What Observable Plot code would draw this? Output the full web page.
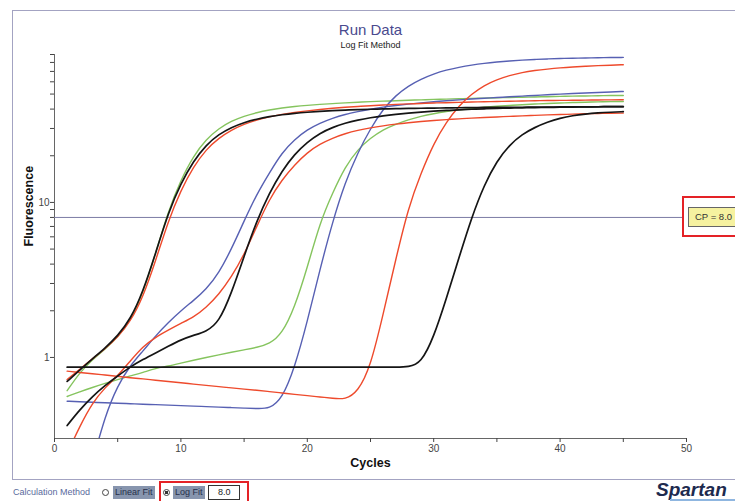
<!DOCTYPE html>
<html>
<head>
<meta charset="utf-8">
<script src="https://cdn.jsdelivr.net/npm/d3@7"></script>
<script src="https://cdn.jsdelivr.net/npm/@observablehq/plot@0.6"></script>
<style>
  body { margin: 0; background: #fff; font-family: "Liberation Sans", Arial, sans-serif; }
  #wrap { position: relative; width: 735px; height: 501px; overflow: hidden; background: #fff; }
  #wrap svg { position: absolute; left: 0; top: 0; }
  .ov { position: absolute; white-space: nowrap; box-sizing: border-box; }
</style>
</head>
<body>
<div id="wrap"></div>
<script>
// ---------------- data ----------------
const cycles = [1,2,3,4,5,6,7,8,9,10,11,12,13,14,15,16,17,18,19,20,21,22,23,24,25,26,27,28,29,30,31,32,33,34,35,36,37,38,39,40,41,42,43,44,45];

const seriesNames = ["Green 1", "Green 2", "Blue 1", "Blue 2", "Red 1", "Red 2", "Red 3", "Black 1", "Black 2", "Black 3"];

const green1 = [0.61,0.8,0.97,1.13,1.35,1.72,2.6,4.7,8.8,14,
  20,25.5,30,33.5,36,38,39.5,40.7,41.6,42.3,
  42.9,43.4,43.9,44.3,44.7,45,45.3,45.6,45.9,46.2,
  46.4,46.7,46.9,47.1,47.3,47.5,47.7,47.9,48.1,48.3,
  48.5,48.6,48.8,48.9,49];
const green2 = [0.56,0.6,0.64,0.68,0.72,0.76,0.8,0.85,0.88,0.92,
  0.96,1.0,1.04,1.08,1.12,1.16,1.22,1.42,2.1,3.8,
  7.4,11.5,17,22,26,29.5,32,34.2,36,37.4,
  38.6,39.6,40.4,41.1,41.7,42.2,42.7,43.1,43.5,43.8,
  44.1,44.3,44.5,44.7,44.8];
const blue1 = [0.06,0.12,0.21,0.42,0.66,0.89,1.1,1.38,1.68,2.0,
  2.33,2.75,3.5,5.0,7.6,11.3,15.5,21,25.5,29.5,
  32.5,35,37,38.5,40,41.2,42.2,43.1,43.9,44.6,
  45.3,45.9,46.5,47,47.5,48,48.5,49,49.5,50,
  50.4,50.8,51.2,51.6,52];
const blue2 = [0.522,0.518,0.514,0.51,0.507,0.503,0.499,0.496,0.492,0.489,
  0.485,0.482,0.478,0.475,0.471,0.468,0.466,0.54,0.86,1.7,
  3.7,7.5,13.5,21,30,40,49,56.5,62.5,67.5,
  71.5,74.5,77,79,80.5,81.8,82.8,83.6,84.3,84.8,
  85.2,85.5,85.8,86,86.2];
const red1 = [0.72,0.84,0.98,1.14,1.35,1.7,2.45,4.2,7.6,12,
  17,22,26,29.3,32,34,35.7,37,38.1,39,
  39.8,40.5,41.1,41.6,42.1,42.5,42.9,43.2,43.5,43.8,
  44,44.2,44.4,44.6,44.8,45,45.1,45.3,45.4,45.5,
  45.6,45.7,45.8,45.9,46];
const red2 = [0.24,0.36,0.51,0.64,0.76,0.95,1.18,1.35,1.5,1.66,
  1.82,2.1,2.55,3.3,4.6,7.0,10.5,14,17.5,21,
  23.8,26,27.8,29.2,30.3,31.2,32,32.7,33.3,33.8,
  34.2,34.6,35,35.3,35.6,35.9,36.2,36.4,36.7,36.9,
  37.1,37.3,37.5,37.6,37.7];
const red3 = [0.816,0.8,0.785,0.77,0.755,0.74,0.727,0.713,0.7,0.687,
  0.673,0.66,0.648,0.636,0.625,0.614,0.602,0.59,0.578,0.567,
  0.556,0.545,0.535,0.6,0.87,1.9,4.3,9.3,15.5,24,
  33,42,50,57,62,66,69,71,72.5,73.8,
  74.8,75.6,76.3,76.8,77.3];
const black1 = [0.7,0.83,0.98,1.15,1.38,1.76,2.65,4.7,8.6,13.3,
  18.5,23.5,27.5,30.5,32.8,34.5,35.8,36.8,37.6,38.2,
  38.7,39.1,39.4,39.7,39.9,40.1,40.3,40.4,40.5,40.6,
  40.7,40.8,40.9,41,41,41.1,41.1,41.2,41.2,41.3,
  41.3,41.4,41.4,41.5,41.5];
const black2 = [0.364,0.46,0.56,0.66,0.76,0.87,0.97,1.07,1.18,1.3,
  1.39,1.47,1.68,2.6,4.5,7.6,11.5,16,20.5,24.5,
  28,30.5,32.5,34,35.2,36.2,37,37.7,38.3,38.8,
  39.2,39.6,39.9,40.2,40.4,40.6,40.8,40.9,41,41.1,
  41.2,41.3,41.4,41.5,41.5];
const black3 = [0.866,0.866,0.866,0.866,0.866,0.866,0.866,0.866,0.866,0.866,
  0.866,0.866,0.866,0.866,0.866,0.866,0.866,0.866,0.866,0.866,
  0.866,0.866,0.866,0.866,0.866,0.866,0.866,0.866,0.92,1.35,
  2.4,4.4,8,13,18.5,23.5,27.5,30.5,33,35,
  36.3,37.2,37.8,38.2,38.5];

const seriesValues = [green1, green2, blue1, blue2, red1, red2, red3, black1, black2, black3];

const xMajorTicks = [0, 10, 20, 30, 40, 50];
const xMinorTicks = [5, 15, 25, 35, 45];
const yMajorTicks = [1, 10];
const yMinorTicks = [2, 3, 4, 5, 6, 7, 8, 9, 20, 30, 40, 50, 60, 70, 80, 90];

const cpThreshold = 8.0;

const titleText = "Run Data";
const subtitleText = "Log Fit Method";
const xLabel = "Cycles";
const yLabel = "Fluorescence";
const methodLabel = "Calculation Method";
const methodOptions = ["Linear Fit", "Log Fit"];
const logoText = "Spartan";

// ---------------- styles ----------------
const seriesColors = ["#85c45e", "#85c45e", "#5760b3", "#5760b3", "#ee4a2c", "#ee4a2c", "#ee4a2c", "#151515", "#151515", "#151515"];
const seriesWidths = [1.4, 1.4, 1.4, 1.4, 1.4, 1.4, 1.4, 1.7, 1.7, 1.7];

// ---------------- build ----------------
const rows = seriesNames.flatMap((s, i) =>
  cycles.map((c, j) => ({cycle: c, value: seriesValues[i][j], series: s})));

const axisColor = "#666";

const chart = Plot.plot({
  width: 735,
  height: 501,
  marginLeft: 54,
  marginRight: 49,
  marginTop: 54,
  marginBottom: 63,
  style: {fontFamily: "'Liberation Sans', Arial, sans-serif", background: "transparent", color: "#333"},
  x: {domain: [0, 50]},
  y: {type: "log", domain: [0.3, 90]},
  marks: [
    // axis lines
    Plot.ruleX([0], {y1: 0.3, y2: 90, stroke: axisColor, strokeWidth: 1}),
    Plot.ruleY([0.3], {x1: 0, x2: 50, stroke: axisColor, strokeWidth: 1}),
    Plot.axisX({ticks: xMajorTicks, tickSize: 4, tickPadding: 2, fontSize: 10, tickFormat: d => String(d), label: null, color: "#444"}),
    Plot.axisX({ticks: xMinorTicks, tickSize: 4, tickFormat: () => "", label: null, color: "#444"}),
    Plot.axisY({ticks: yMajorTicks, tickSize: 4, tickPadding: 1, fontSize: 10, tickFormat: d => String(d), label: null, color: "#444"}),
    Plot.axisY({ticks: yMinorTicks, tickSize: 4, tickFormat: () => "", label: null, color: "#444"}),
    // threshold
    Plot.ruleY([cpThreshold], {x1: 0, x2: 50, stroke: "#7c7ca4", strokeWidth: 1}),
    // curves
    ...seriesNames.map((s, i) => Plot.line(rows.filter(r => r.series === s), {
      x: "cycle", y: "value", stroke: seriesColors[i], strokeWidth: seriesWidths[i],
      curve: "basis", clip: true
    })),
    // texts
    Plot.text([titleText], {text: d => d, frameAnchor: "top", dy: -30, fontSize: 15, fill: "#4a4a8e"}),
    Plot.text([subtitleText], {text: d => d, frameAnchor: "top", dy: -12.5, fontSize: 9, fill: "#222"}),
    Plot.text([xLabel], {text: d => d, frameAnchor: "bottom", dy: 28, fontSize: 12.5, fontWeight: "bold", fill: "#111"}),
    Plot.text([yLabel], {text: d => d, frameAnchor: "left", dx: -26, rotate: -90, fontSize: 12.5, fontWeight: "bold", fill: "#111"})
  ]
});

const wrap = document.getElementById("wrap");

// outer frame
const frame = document.createElement("div");
frame.className = "ov";
Object.assign(frame.style, {left: "12px", top: "10px", width: "800px", height: "470px",
  border: "1.5px solid #a3a3c2"});
wrap.appendChild(frame);

wrap.appendChild(chart);

function addDiv(styles, text) {
  const d = document.createElement("div");
  d.className = "ov";
  Object.assign(d.style, styles);
  if (text != null) d.textContent = text;
  wrap.appendChild(d);
  return d;
}

// CP label box positioned from the y scale
const yCP = chart.scale("y").apply(cpThreshold);
addDiv({left: "682px", top: (yCP - 21) + "px", width: "70px", height: "41px",
  border: "2px solid #e42226", background: "#fff"});
addDiv({left: "688px", top: (yCP - 10) + "px", width: "60px", height: "20px",
  border: "1px solid #666", background: "#f6f2a0", fontSize: "9.5px", lineHeight: "18px",
  paddingLeft: "6px", color: "#333"}, "CP = " + cpThreshold.toFixed(1));

// bottom controls
addDiv({left: "13px", top: "486px", fontSize: "9px", lineHeight: "12px", color: "#5a6a9c"}, methodLabel);
addDiv({left: "102px", top: "489px", width: "7px", height: "7px", borderRadius: "50%",
  border: "1px solid #444", background: "#fff"});
addDiv({left: "113px", top: "486px", height: "13px", padding: "0 2px", background: "#8795ae",
  fontSize: "9px", lineHeight: "13px", color: "#26304a"}, methodOptions[0]);
addDiv({left: "159px", top: "481px", width: "90px", height: "24px", border: "2px solid #e42226"});
addDiv({left: "163px", top: "489px", width: "7px", height: "7px", borderRadius: "50%",
  border: "1px solid #444", background: "radial-gradient(circle, #333 0 1.6px, #fff 2px)"});
addDiv({left: "173px", top: "486px", height: "13px", padding: "0 2px", background: "#8795ae",
  fontSize: "9px", lineHeight: "13px", color: "#26304a"}, methodOptions[1]);
addDiv({left: "208px", top: "485px", width: "32px", height: "15px", border: "1px solid #333",
  background: "#fff", fontSize: "9px", lineHeight: "13px", paddingLeft: "9px", color: "#222"},
  cpThreshold.toFixed(1));

// logo
addDiv({left: "656px", top: "480px", fontSize: "19px", fontStyle: "italic", fontWeight: "bold",
  color: "#1d2a4e", letterSpacing: "0px", lineHeight: "20px"}, logoText);
addDiv({left: "670px", top: "499px", width: "80px", height: "2px", background: "#8fb6e0"});
</script>
</body>
</html>
